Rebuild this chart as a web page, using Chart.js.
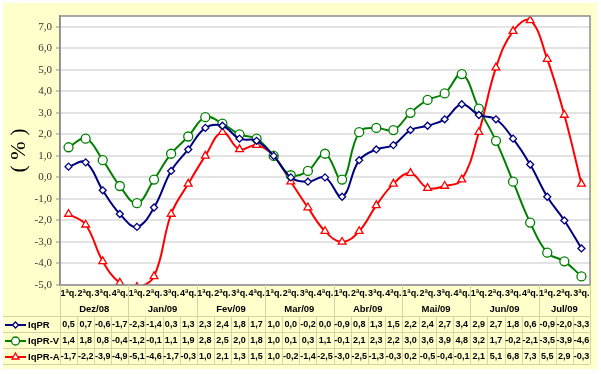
<!DOCTYPE html>
<html>
<head>
<meta charset="utf-8">
<script src="https://cdn.jsdelivr.net/npm/chart.js@4"></script>
<style>
  body { margin: 0; background: #fff; }
  canvas { display: block; }
</style>
</head>
<body>
<canvas id="chart" width="601" height="374"></canvas>
<script>
const quarters = ['1ªq.', '2ªq.', '3ªq.', '4ªq.']
const months = ['Dez/08', 'Jan/09', 'Fev/09', 'Mar/09', 'Abr/09', 'Mai/09', 'Jun/09', 'Jul/09']
const quartersPerMonth = [4, 4, 4, 4, 4, 4, 4, 3]
const yTicks = [-5, -4, -3, -2, -1, 0, 1, 2, 3, 4, 5, 6, 7]

const iqpr = [0.5, 0.7, -0.6, -1.7, -2.3, -1.4, 0.3, 1.3, 2.3, 2.4, 1.8, 1.7, 1.0, 0.0, -0.2, 0.0,
  -0.9, 0.8, 1.3, 1.5, 2.2, 2.4, 2.7, 3.4, 2.9, 2.7, 1.8, 0.6, -0.9, -2.0, -3.3]
const iqprV = [1.4, 1.8, 0.8, -0.4, -1.2, -0.1, 1.1, 1.9, 2.8, 2.5, 2.0, 1.8, 1.0, 0.1, 0.3, 1.1,
  -0.1, 2.1, 2.3, 2.2, 3.0, 3.6, 3.9, 4.8, 3.2, 1.7, -0.2, -2.1, -3.5, -3.9, -4.6]
const iqprA = [-1.7, -2.2, -3.9, -4.9, -5.1, -4.6, -1.7, -0.3, 1.0, 2.1, 1.3, 1.5, 1.0, -0.2, -1.4, -2.5,
  -3.0, -2.5, -1.3, -0.3, 0.2, -0.5, -0.4, -0.1, 2.1, 5.1, 6.8, 7.3, 5.5, 2.9, -0.3]

// one label per quarter, built from the month groups
let labels = []
months.forEach((m, i) => {
  for (let q = 0; q < quartersPerMonth[i]; q++) labels.push(quarters[q] + ' ' + m)
})

const fmt = v => v.toFixed(1).replace('.', ',')

const series = [
  { label: 'IqPR', data: iqpr, color: '#000080', style: 'rectRot', radius: 3.5 },
  { label: 'IqPR-V', data: iqprV, color: '#008000', style: 'circle', radius: 4.5 },
  { label: 'IqPR-A', data: iqprA, color: '#ff0000', style: 'triangle', radius: 4.5 }
]

const tableLine = '#d6d2a2'
const tableFont = 'Arial, "Liberation Sans", sans-serif'

const backgroundPlugin = {
  id: 'background',
  beforeDraw(chart) {
    let ctx = chart.ctx
    ctx.save()
    ctx.fillStyle = '#ffffcc'
    ctx.fillRect(3, 3, 594, 366)
    let a = chart.chartArea
    ctx.fillStyle = '#ffffff'
    ctx.fillRect(a.left, a.top, a.right - a.left, a.bottom - a.top)
    ctx.restore()
  }
}

const tablePlugin = {
  id: 'dataTable',
  afterDraw(chart) {
    let ctx = chart.ctx
    let a = chart.chartArea
    let x = chart.scales.x
    let cell = (a.right - a.left) / labels.length
    let rowQ = [a.bottom, a.bottom + 15]
    let rowM = [rowQ[1], rowQ[1] + 16]
    let rowTop = rowM[1]
    let rowH = 16
    let tableBottom = rowTop + rowH * series.length

    ctx.save()
    // plot frame
    ctx.strokeStyle = '#8c8c8c'
    ctx.lineWidth = 1.5
    ctx.strokeRect(a.left, a.top, a.right - a.left, a.bottom - a.top)

    // table grid
    ctx.strokeStyle = tableLine
    ctx.lineWidth = 1
    ctx.beginPath()
    ctx.moveTo(a.left + 0.5, a.bottom)
    ctx.lineTo(a.left + 0.5, tableBottom)
    ctx.moveTo(a.right + 0.5, a.bottom)
    ctx.lineTo(a.right + 0.5, tableBottom)
    for (let r = 0; r <= series.length; r++) {
      let y = Math.round(rowTop + r * rowH) + 0.5
      ctx.moveTo(3, y)
      ctx.lineTo(a.right, y)
    }
    let idx = 0
    months.forEach((m, i) => {
      idx += quartersPerMonth[i]
      let bx = Math.round(a.left + idx * cell) + 0.5
      ctx.moveTo(bx, a.bottom)
      ctx.lineTo(bx, rowTop)
    })
    for (let i = 1; i < labels.length; i++) {
      let bx = Math.round(a.left + i * cell) + 0.5
      ctx.moveTo(bx, rowTop)
      ctx.lineTo(bx, tableBottom)
    }
    ctx.stroke()

    ctx.fillStyle = '#000'
    ctx.textAlign = 'center'
    ctx.textBaseline = 'middle'

    // quarter row
    ctx.font = 'bold 9px ' + tableFont
    idx = 0
    months.forEach((m, i) => {
      for (let q = 0; q < quartersPerMonth[i]; q++) {
        ctx.fillText(quarters[q], x.getPixelForValue(idx), (rowQ[0] + rowQ[1]) / 2 + 1)
        idx++
      }
    })

    // month row
    ctx.font = 'bold 9.5px ' + tableFont
    idx = 0
    months.forEach((m, i) => {
      let first = x.getPixelForValue(idx)
      let last = x.getPixelForValue(idx + quartersPerMonth[i] - 1)
      ctx.fillText(m, (first + last) / 2, (rowM[0] + rowM[1]) / 2 + 1)
      idx += quartersPerMonth[i]
    })

    // data rows with legend keys
    series.forEach((s, r) => {
      let cy = rowTop + r * rowH + rowH / 2 + 1
      ctx.strokeStyle = s.color
      ctx.lineWidth = 2
      ctx.beginPath()
      ctx.moveTo(5, cy)
      ctx.lineTo(26, cy)
      ctx.stroke()
      ctx.fillStyle = '#fff'
      ctx.lineWidth = 1.3
      Chart.helpers.drawPoint(ctx, { pointStyle: s.style, radius: s.radius - 0.5, borderWidth: 1.3 }, 15.5, cy)
      ctx.fillStyle = '#000'
      ctx.textAlign = 'left'
      ctx.font = 'bold 9.5px ' + tableFont
      ctx.fillText(s.label, 28, cy)
      ctx.textAlign = 'center'
      ctx.font = 'bold 9px ' + tableFont
      s.data.forEach((v, i) => {
        ctx.fillText(fmt(v), x.getPixelForValue(i), cy)
      })
    })
    ctx.restore()
  }
}

let datasets = series.map(s => ({
  label: s.label,
  data: s.data,
  borderColor: s.color,
  backgroundColor: '#ffffff',
  borderWidth: 2,
  tension: 0.4,
  pointStyle: s.style,
  pointRadius: s.radius,
  pointBorderWidth: 1.3,
  pointBackgroundColor: '#ffffff',
  pointBorderColor: s.color
}))

new Chart(document.getElementById('chart'), {
  type: 'line',
  data: { labels: labels, datasets: datasets },
  options: {
    responsive: false,
    animation: false,
    layout: { padding: { left: 0, right: 11, top: 16, bottom: 89 } },
    plugins: {
      legend: { display: false },
      tooltip: { enabled: false }
    },
    scales: {
      x: {
        display: false,
        offset: true
      },
      y: {
        min: -5,
        max: 7.5,
        afterBuildTicks(scale) {
          scale.ticks = yTicks.map(v => ({ value: v }))
        },
        afterFit(scale) {
          scale.width = 60
        },
        ticks: {
          color: '#333',
          padding: 4,
          font: { family: '"Liberation Serif", "Times New Roman", serif', size: 11 },
          callback: v => fmt(v)
        },
        grid: {
          color: '#e3e3e3',
          lineWidth: 2,
          tickLength: 4,
          tickColor: '#8c8c8c',
          tickWidth: 1
        },
        border: { display: true, color: '#8c8c8c', width: 1.5 },
        title: {
          display: true,
          text: '( % )',
          color: '#000',
          padding: { top: 6, bottom: 0 },
          font: { family: '"Liberation Serif", "Times New Roman", serif', size: 22 }
        }
      }
    }
  },
  plugins: [backgroundPlugin, tablePlugin]
})
</script>
</body>
</html>
